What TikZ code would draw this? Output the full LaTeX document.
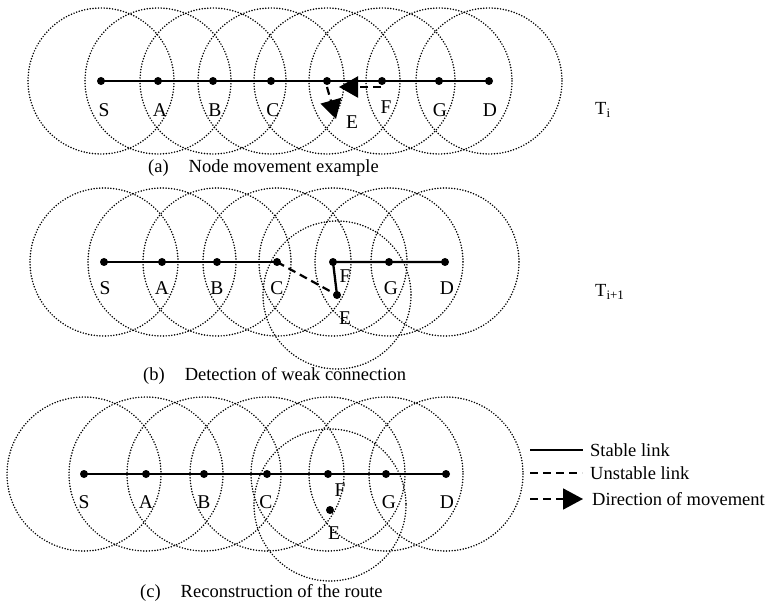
\documentclass[tikz,border=0pt]{standalone}
\usepackage{fontspec}
\setmainfont{Liberation Serif}
\usetikzlibrary{arrows.meta}
\begin{document}
\begin{tikzpicture}[x=1pt,y=-1pt,
  ndot/.style={circle,fill=black,inner sep=0pt,minimum size=8pt},
  lbl/.style={inner sep=0pt,font=\fontsize{19.5}{23}\selectfont},
  txt/.style={inner sep=0pt,anchor=west,font=\fontsize{18.5}{22}\selectfont},
  rngcirc/.style={draw=black,line width=1.7pt,line cap=round,dash pattern=on 0pt off 2.8pt},
  stablelink/.style={draw=black,line width=2.3pt},
  weaklink/.style={draw=black,line width=2.2pt,dash pattern=on 8pt off 5pt},
  movearrow/.style={draw=black,line width=2.2pt,dash pattern=on 8pt off 5pt,-{Triangle[length=19pt,width=21pt]}}
]
\useasboundingbox (0,0) rectangle (769,604);

% ---------------- (a) ----------------
\foreach \n/\x in {S/101,A/158,B/213,C/271,E/327,F/382,G/439,D/489}{
  \draw[rngcirc] (\x,81) circle[radius=73];
  \node[ndot] (a\n) at (\x,81) {};
}
\draw[stablelink] (aS.center) -- (aD.center);
\node[lbl] (laS) at (104,110) {S};
\node[lbl] (laA) at (160,110) {A};
\node[lbl] (laB) at (215,110) {B};
\node[lbl] (laC) at (273,110) {C};
\node[lbl] (laF) at (386,107) {F};
\node[lbl] (laG) at (440,110) {G};
\node[lbl] (laD) at (490,110) {D};
\node[lbl] (laE) at (352,122) {E};
\coordinate (am1) at (381,87);
\coordinate (am2) at (339,87);
\draw[movearrow] (am1) -- (am2);
\coordinate (am3) at (327,87);
\coordinate (am4) at (336,119);
\draw[movearrow] (am3) -- (am4);
\node[txt] (capa) at (148,168) {(a)\hspace{20pt}Node movement example};
\node[txt] (ti) at (595,110) {T\textsubscript{i}};

% ---------------- (b) ----------------
\foreach \n/\x/\y in {S/104/262,A/162/262,B/217/262,C/277/262,F/333/262,G/389/262,D/445/262,E/337/295}{
  \draw[rngcirc] (\x,\y) circle[radius=74];
  \node[ndot] (b\n) at (\x,\y) {};
}
\draw[stablelink] (bS.center) -- (bC.center);
\draw[weaklink] (bC.center) -- (bE.center);
\draw[stablelink] (bE.center) -- (bF.center) -- (bD.center);
\node[lbl] (lbS) at (105,288) {S};
\node[lbl] (lbA) at (162,288) {A};
\node[lbl] (lbB) at (217,288) {B};
\node[lbl] (lbC) at (277,288) {C};
\node[lbl] (lbF) at (345,276) {F};
\node[lbl] (lbG) at (391,288) {G};
\node[lbl] (lbD) at (447,288) {D};
\node[lbl] (lbE) at (345,318) {E};
\node[txt] (capb) at (143,376) {(b)\hspace{20pt}Detection of weak connection};
\node[txt] (tii) at (595,292) {T\textsubscript{i+1}};

% ---------------- (c) ----------------
\foreach \n/\x in {S/84,A/146,B/204,C/267,F/328,G/386,D/446}{
  \draw[rngcirc] (\x,474) circle[radius=77];
  \node[ndot] (c\n) at (\x,474) {};
}
\draw[rngcirc] (330,505) circle[radius=76];
\node[ndot] (cE) at (330,510) {};
\draw[stablelink] (cS.center) -- (cD.center);
\node[lbl] (lcS) at (84,502) {S};
\node[lbl] (lcA) at (146,502) {A};
\node[lbl] (lcB) at (204,502) {B};
\node[lbl] (lcC) at (266,502) {C};
\node[lbl] (lcF) at (340,490) {F};
\node[lbl] (lcG) at (389,502) {G};
\node[lbl] (lcD) at (447,502) {D};
\node[lbl] (lcE) at (334,533) {E};
\node[txt] (capc) at (140,593) {(c)\hspace{20pt}Reconstruction of the route};

% ---------------- legend ----------------
\node[txt] (leg1) at (590,450) {Stable link};
\node[txt] (leg2) at (590,473) {Unstable link};
\node[txt] (leg3) at (592,499) {Direction of movement};
\coordinate (k1) at (530,450);
\coordinate (k2) at (530,473);
\coordinate (k3) at (530,499);
\draw[stablelink,line width=1.8pt] (k1) -- ([xshift=-7pt]leg1.west);
\draw[weaklink,line width=1.8pt] (k2) -- ([xshift=-8pt]leg2.west);
\draw[draw=black,line width=1.8pt,dash pattern=on 8pt off 5pt,-{Triangle[length=20pt,width=21pt]}] (k3) -- ([xshift=-9pt]leg3.west);
\end{tikzpicture}
\end{document}
